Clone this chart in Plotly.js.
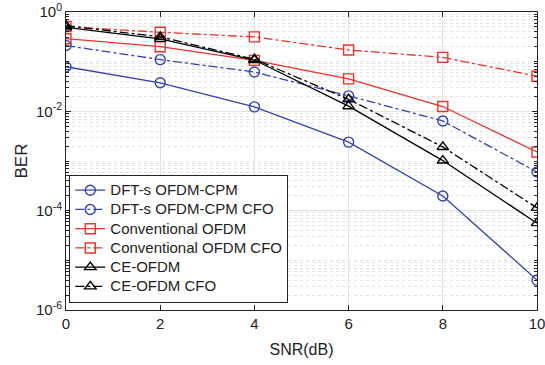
<!DOCTYPE html>
<html>
<head>
<meta charset="utf-8">
<script src="https://cdn.plot.ly/plotly-3.0.1.min.js"></script>
<style>html,body{margin:0;padding:0;background:#fff;}#chart{width:545px;height:365px;}</style>
</head>
<body>
<div id="chart"></div>
<script>
const snr = [0, 2, 4, 6, 8, 10];
const dftCpm = [0.079, 0.0375, 0.0123, 0.0024, 0.000198, 0.000004];
const dftCpmCfo = [0.211, 0.11, 0.062, 0.0205, 0.0064, 0.0006];
const convOfdm = [0.29, 0.20, 0.106, 0.045, 0.0125, 0.00152];
const convOfdmCfo = [0.51, 0.39, 0.316, 0.172, 0.122, 0.051];
const ceOfdm = [0.49, 0.288, 0.108, 0.0127, 0.00102, 0.000056];
const ceOfdmCfo = [0.53, 0.316, 0.112, 0.0175, 0.00192, 0.000114];
const names = ['DFT-s OFDM-CPM', 'DFT-s OFDM-CPM CFO', 'Conventional OFDM', 'Conventional OFDM CFO', 'CE-OFDM', 'CE-OFDM CFO'];
const yTickVals = [1e-6, 1e-4, 1e-2, 1];
const yTickText = ['10<sup>-6</sup>', '10<sup>-4</sup>', '10<sup>-2</sup>', '10<sup>0</sup>'];
const xTickVals = [0, 2, 4, 6, 8, 10];

const BLUE = '#3344aa', RED = '#e8332b', BLACK = '#000000';
function tr(y, name, color, dash, symbol) {
  return {
    x: snr, y: y, name: '<span style="font-size:15px">' + name + '</span>',
    type: 'scatter', mode: 'lines+markers',
    line: {color: color, width: 1.3, dash: dash},
    marker: {symbol: symbol, size: 10, color: color, line: {color: color, width: 1.4}}
  };
}
const data = [
  tr(dftCpm, names[0], BLUE, 'solid', 'circle-open'),
  tr(dftCpmCfo, names[1], BLUE, 'dashdot', 'circle-open'),
  tr(convOfdm, names[2], RED, 'solid', 'square-open'),
  tr(convOfdmCfo, names[3], RED, 'dashdot', 'square-open'),
  tr(ceOfdm, names[4], BLACK, 'solid', 'triangle-up-open'),
  tr(ceOfdmCfo, names[5], BLACK, 'dashdot', 'triangle-up-open')
];
const font = {family: 'Liberation Sans, Arial, sans-serif', color: '#222'};
const layout = {
  width: 545, height: 365,
  margin: {l: 66, r: 8, t: 12, b: 55},
  paper_bgcolor: '#fff', plot_bgcolor: '#fff',
  font: font,
  showlegend: true,
  legend: {
    x: 0.007, y: 0.025, xanchor: 'left', yanchor: 'bottom',
    bgcolor: '#fff', bordercolor: '#222', borderwidth: 1,
    font: {family: font.family, size: 12.5, color: '#222'},
    tracegroupgap: 0, itemwidth: 30
  },
  xaxis: {
    range: [0, 10], tickvals: xTickVals, ticktext: xTickVals.map(String),
    showgrid: true, gridcolor: '#e3e3e3', gridwidth: 1,
    zeroline: false, showline: true, linecolor: '#222', linewidth: 1, mirror: 'ticks',
    ticks: 'inside', ticklen: 5, tickcolor: '#222', ticklabeloverflow: 'allow',
    tickfont: {size: 15, color: '#222'},
    title: {text: 'SNR(dB)', font: {size: 16, color: '#222'}, standoff: 12}
  },
  yaxis: {
    type: 'log', range: [-6, 0],
    tickmode: 'array', tickvals: yTickVals, ticktext: yTickText,
    showgrid: true, gridcolor: '#e3e3e3', gridwidth: 1,
    zeroline: false, showline: true, linecolor: '#222', linewidth: 1, mirror: 'ticks',
    ticks: 'inside', ticklen: 5, tickcolor: '#222', ticklabeloverflow: 'allow',
    tickfont: {size: 15, color: '#222'},
    minor: {dtick: 'D1', showgrid: true, gridcolor: '#e3e3e3', griddash: 'dot', ticks: 'inside', ticklen: 3, tickcolor: '#222'},
    title: {text: 'BER', font: {size: 17, color: '#222'}, standoff: 4}
  }
};
Plotly.newPlot('chart', data, layout, {displayModeBar: false, staticPlot: true});
</script>
</body>
</html>
